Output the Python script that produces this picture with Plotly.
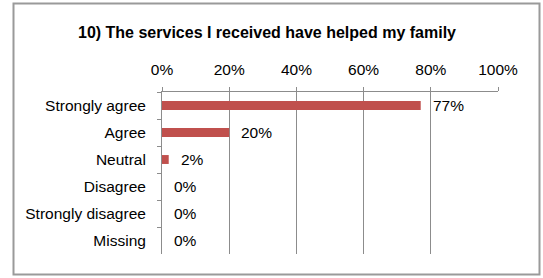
import plotly.graph_objects as go

categories = ["Strongly agree", "Agree", "Neutral", "Disagree", "Strongly disagree", "Missing"]
values = [0.77, 0.20, 0.02, 0.0, 0.0, 0.0]
value_labels = ["77%", "20%", "2%", "0%", "0%", "0%"]
tick_vals = [0, 0.2, 0.4, 0.6, 0.8, 1.0]
tick_text = ["0%", "20%", "40%", "60%", "80%", "100%"]
title_text = "10) The services I received have helped my family"

FONT = "Liberation Sans"
GRID = "#8c8c8c"
FS = 15.5

fig = go.Figure()
fig.add_trace(go.Bar(
    y=categories, x=values, orientation="h",
    marker=dict(color="#C0504D", line=dict(width=0)),
    width=0.33, hoverinfo="skip",
))
for c, v, t in zip(categories, values, value_labels):
    fig.add_annotation(x=v, y=c, xref="x", yref="y", text=t, showarrow=False,
                       xanchor="left", yanchor="middle", xshift=10,
                       font=dict(family=FONT, size=FS, color="black"))

fig.update_layout(
    width=543, height=278,
    margin=dict(l=162, r=45, t=92, b=24, autoexpand=False),
    paper_bgcolor="white", plot_bgcolor="white",
    showlegend=False,
    font=dict(family=FONT, size=FS, color="black"),
    title=dict(text="<b>" + title_text + "</b>", x=267 / 543, xref="container",
               xanchor="center", y=1 - 32 / 278, yanchor="middle",
               font=dict(family=FONT, size=16, color="black")),
    xaxis=dict(range=[0, 1], side="top", tickvals=tick_vals, ticktext=tick_text,
               showgrid=True, gridcolor=GRID, gridwidth=1, zeroline=False,
               showline=True, linecolor=GRID, linewidth=1,
               ticks="outside", ticklen=4, tickcolor=GRID,
               ticklabelstandoff=6, fixedrange=True, automargin=False),
    yaxis=dict(categoryorder="array", categoryarray=categories, autorange="reversed",
               showline=True, linecolor=GRID, linewidth=1, showgrid=False,
               ticks="outside", ticklen=4, tickcolor=GRID, tickson="boundaries",
               ticklabelstandoff=12, fixedrange=True, automargin=False),
    shapes=[dict(type="rect", xref="paper", yref="paper",
                 x0=(13.5 - 162) / (543 - 162 - 45), x1=(539.5 - 162) / (543 - 162 - 45),
                 y0=-(274.5 - 254) / (254 - 92), y1=1 + (92 - 3.5) / (254 - 92),
                 line=dict(color="#9a9a9a", width=2), fillcolor="rgba(0,0,0,0)", layer="below")],
)

fig.write_html("out.html", config={"displayModeBar": False},
               post_script="document.body.style.margin='0';document.body.style.overflow='hidden';")
